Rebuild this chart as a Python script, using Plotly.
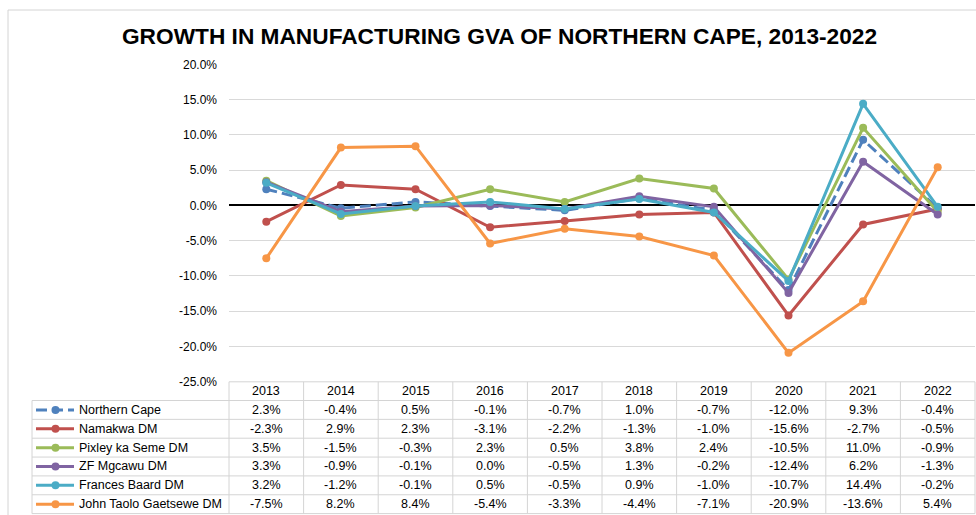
import plotly.graph_objects as go

years = ["2013", "2014", "2015", "2016", "2017", "2018", "2019", "2020", "2021", "2022"]

series_names = ["Northern Cape", "Namakwa DM", "Pixley ka Seme DM", "ZF Mgcawu DM",
                "Frances Baard DM", "John Taolo Gaetsewe DM"]

northern_cape = [2.3, -0.4, 0.5, -0.1, -0.7, 1.0, -0.7, -12.0, 9.3, -0.4]
namakwa = [-2.3, 2.9, 2.3, -3.1, -2.2, -1.3, -1.0, -15.6, -2.7, -0.5]
pixley = [3.5, -1.5, -0.3, 2.3, 0.5, 3.8, 2.4, -10.5, 11.0, -0.9]
zf_mgcawu = [3.3, -0.9, -0.1, 0.0, -0.5, 1.3, -0.2, -12.4, 6.2, -1.3]
frances_baard = [3.2, -1.2, -0.1, 0.5, -0.5, 0.9, -1.0, -10.7, 14.4, -0.2]
john_taolo = [-7.5, 8.2, 8.4, -5.4, -3.3, -4.4, -7.1, -20.9, -13.6, 5.4]

series_values = [northern_cape, namakwa, pixley, zf_mgcawu, frances_baard, john_taolo]
colors = ["#4f81bd", "#c0504d", "#9bbb59", "#8064a2", "#4bacc6", "#f79646"]
dashes = ["11px,5px", "solid", "solid", "solid", "solid", "solid"]

y_ticks = [20, 15, 10, 5, 0, -5, -10, -15, -20, -25]

W, H = 976, 515
FONT = "Liberation Sans, Arial, sans-serif"


def px(x):
    return x / W


def py(y):
    return 1 - y / H


# geometry (pixels)
PLOT_L, PLOT_R = 229, 975
PLOT_T, PLOT_B = 64.3, 381.8
TAB_L = 32
HEAD_B = 400.5
ROW_H = 18.85
N_ROWS = len(series_names)
TAB_B = HEAD_B + ROW_H * N_ROWS
GRID = "#d4d4d4"

fig = go.Figure()

for name, vals, col, dash in zip(series_names, series_values, colors, dashes):
    fig.add_trace(go.Scatter(
        x=years, y=vals, name=name, mode="lines+markers",
        line=dict(color=col, width=3, dash=dash),
        marker=dict(color=col, size=8),
        showlegend=False,
        hovertemplate="%{x}: %{y:.1f}%<extra>" + name + "</extra>",
    ))

shapes = []
annotations = []

# outer frame (partial, as in reference)
shapes.append(dict(type="line", xref="paper", yref="paper", x0=px(8), x1=px(8),
                   y0=py(10), y1=py(515), line=dict(color=GRID, width=1)))
shapes.append(dict(type="line", xref="paper", yref="paper", x0=px(8), x1=px(976),
                   y0=py(10), y1=py(10), line=dict(color=GRID, width=1)))

# table lines
col_w = (PLOT_R - PLOT_L) / len(years)
for k in range(len(years) + 1):
    xk = PLOT_L + k * col_w
    shapes.append(dict(type="line", xref="paper", yref="paper", x0=px(xk), x1=px(xk),
                       y0=py(PLOT_B), y1=py(TAB_B), line=dict(color=GRID, width=1)))
shapes.append(dict(type="line", xref="paper", yref="paper", x0=px(TAB_L), x1=px(TAB_L),
                   y0=py(HEAD_B), y1=py(TAB_B), line=dict(color=GRID, width=1)))
shapes.append(dict(type="line", xref="paper", yref="paper", x0=px(PLOT_L), x1=px(PLOT_R),
                   y0=py(PLOT_B), y1=py(PLOT_B), line=dict(color=GRID, width=1)))
for i in range(N_ROWS + 1):
    yi = HEAD_B + i * ROW_H
    shapes.append(dict(type="line", xref="paper", yref="paper", x0=px(TAB_L), x1=px(PLOT_R),
                       y0=py(yi), y1=py(yi), line=dict(color=GRID, width=1)))

# header years (category index positions on the x axis)
for j, yr in enumerate(years):
    annotations.append(dict(x=j, xref="x", y=py((PLOT_B + HEAD_B) / 2), yref="paper",
                            text=yr, showarrow=False, xanchor="center", yanchor="middle",
                            font=dict(family=FONT, size=12.5, color="#000000")))

# rows
for i, (name, vals, col, dash) in enumerate(zip(series_names, series_values, colors, dashes)):
    yc = HEAD_B + (i + 0.5) * ROW_H
    # legend sample
    shapes.append(dict(type="line", xref="paper", yref="paper", x0=px(36), x1=px(74),
                       y0=py(yc), y1=py(yc), line=dict(color=col, width=3, dash=dash)))
    shapes.append(dict(type="circle", xref="paper", yref="paper", x0=px(51.5), x1=px(59.5),
                       y0=py(yc + 4), y1=py(yc - 4), fillcolor=col, line=dict(color=col, width=0)))
    annotations.append(dict(x=px(77), xref="paper", y=py(yc), yref="paper", text=name,
                            showarrow=False, xanchor="left", yanchor="middle",
                            font=dict(family=FONT, size=12.5, color="#000000")))
    for j, v in enumerate(vals):
        annotations.append(dict(x=j, xref="x", y=py(yc), yref="paper", text=f"{v:.1f}%",
                                showarrow=False, xanchor="center", yanchor="middle",
                                font=dict(family=FONT, size=12.5, color="#000000")))

fig.update_layout(
    width=W, height=H,
    margin=dict(l=0, r=0, t=0, b=0, pad=0, autoexpand=False),
    paper_bgcolor="white", plot_bgcolor="white",
    font=dict(family=FONT, color="#000000"),
    title=dict(text="<b>GROWTH IN MANUFACTURING GVA OF NORTHERN CAPE, 2013-2022</b>",
               x=px(499.5), xanchor="center", y=py(36), yanchor="middle",
               font=dict(family=FONT, size=22.7, color="#000000")),
    xaxis=dict(type="category", categoryorder="array", categoryarray=years,
               range=[-0.5, len(years) - 0.5], domain=[px(PLOT_L), px(PLOT_R)],
               showticklabels=False, showgrid=False, zeroline=False, showline=False,
               ticks="", automargin=False),
    yaxis=dict(range=[-25, 20], domain=[py(PLOT_B), py(PLOT_T)],
               tickvals=y_ticks, ticktext=[f"{t:.1f}%" for t in y_ticks],
               showgrid=True, gridcolor="#d9d9d9", gridwidth=1,
               zeroline=True, zerolinecolor="#000000", zerolinewidth=2,
               showline=False, ticks="", ticklabelstandoff=11, automargin=False,
               tickfont=dict(family=FONT, size=12, color="#000000")),
    shapes=shapes,
    annotations=annotations,
)

fig.write_html(
    "out.html",
    config={"displayModeBar": False},
    post_script="document.body.style.margin='0';document.body.style.overflow='hidden';"
                "document.documentElement.style.overflow='hidden';",
)
